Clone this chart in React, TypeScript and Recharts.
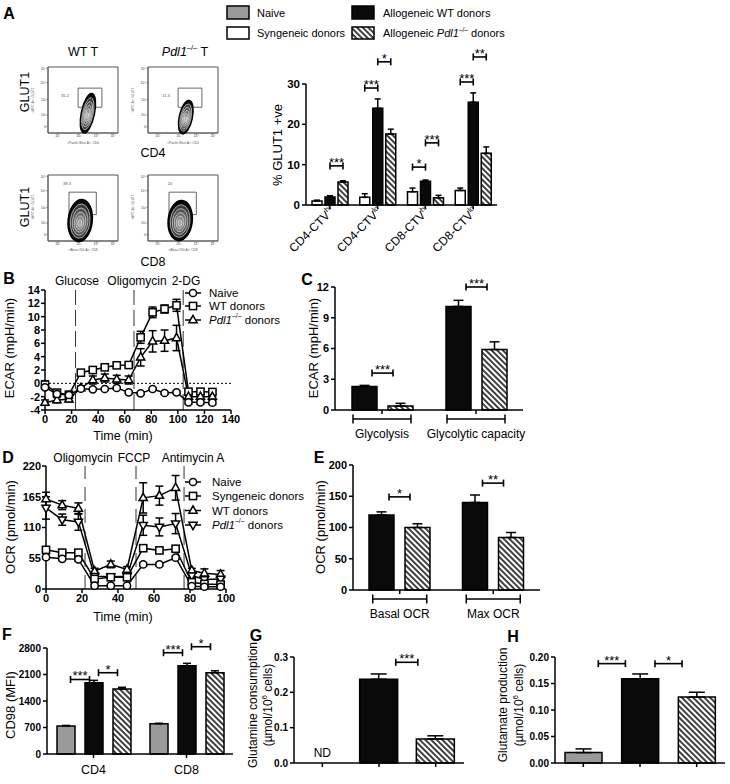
import React from 'react';
import {
  Bar,
  BarChart,
  Cell,
  ErrorBar,
  LabelList,
  Line,
  LineChart,
  ReferenceArea,
  ReferenceLine,
  Scatter,
  ScatterChart,
  XAxis,
  YAxis,
} from 'recharts';

const FONT = '"Liberation Sans", Arial, Helvetica, sans-serif';
const GRAY = '#9a9a9a';
const BLACK = '#0a0a0a';
const HATCH = 'url(#hatch)';

// ---------- A: flow plots
const flowGateLabels = ['35.2', '11.3', '38.3', '20'];
const flowBlobX = [57, 54, 46, 46];
const flowBlobY = [30, 24, 31, 31];
const flowGateX = [[43, 77], [43, 77], [30, 69], [30, 69]];
const flowGateY = [[39, 68], [39, 68], [40, 74], [40, 74]];
const flowXTicks = [6, 14, 44, 69, 93];
const flowYTicks = [10, 27, 51, 76, 98];
const flowTickLabels = ['0', '10²', '10³', '10⁴', '10⁵'];

// ---------- A: bar chart
const aCatBase = ['CD4-CTV', 'CD4-CTV', 'CD8-CTV', 'CD8-CTV'];
const aCatSup = ['hi', 'lo', 'hi', 'lo'];
const aCats = aCatBase.map((b, i) => b + aCatSup[i]);
const aSyn = [1.0, 1.9, 3.3, 3.6];
const aSynErr = [0.2, 0.9, 0.9, 0.6];
const aWT = [2.0, 24.0, 5.9, 25.5];
const aWTErr = [0.3, 2.3, 0.3, 2.3];
const aKO = [5.7, 17.6, 1.8, 12.8];
const aKOErr = [0.3, 1.2, 0.6, 1.6];
const aSigSyn = [
  { i: 1, y: 29.0, t: '***' },
  { i: 2, y: 9.4, t: '*' },
  { i: 3, y: 30.5, t: '***' },
];
const aSigWT = [
  { i: 0, y: 9.7, t: '***' },
  { i: 1, y: 35.5, t: '*' },
  { i: 2, y: 15.4, t: '***' },
  { i: 3, y: 36.7, t: '**' },
];

// ---------- B: ECAR time course
const bTime = [0, 9, 18, 27, 36, 45, 54, 63, 72, 81, 90, 99, 108, 117, 126];
const bNaive = [-0.6, -1.6, -1.75, -0.8, -0.9, -0.85, -0.7, -1.35, -1.5, -0.85, -1.45, -1.35, -2.85, -2.85, -2.9];
const bNaiveErr = [0.3, 0.3, 0.3, 0.2, 0.2, 0.2, 0.2, 0.2, 0.2, 0.2, 0.2, 0.2, 0.3, 0.3, 0.3];
const bWT = [-0.2, -1.4, -1.7, 1.6, 2.0, 2.4, 2.7, 2.75, 6.9, 10.65, 11.15, 11.7, -1.25, -1.25, -1.3];
const bWTErr = [0.6, 0.4, 0.3, 0.3, 0.3, 0.3, 0.3, 0.3, 0.9, 0.8, 0.6, 0.9, 0.3, 0.3, 0.3];
const bKO = [-2.9, -2.5, -2.4, -0.7, 0.5, 0.8, 0.6, 0.5, 3.9, 6.3, 6.4, 6.8, -2.0, -2.0, -2.0];
const bKOErr = [0.4, 0.4, 0.4, 0.3, 0.6, 0.6, 0.6, 0.6, 1.3, 1.6, 1.6, 1.9, 0.4, 0.4, 0.4];
const bInjections = [23, 67, 104];
const bInjectionNames = ['Glucose', 'Oligomycin', '2-DG'];

// ---------- C: ECAR summary
const cCats = ['Glycolysis', 'Glycolytic capacity'];
const cWT = [2.3, 10.1];
const cWTErr = [0.1, 0.6];
const cKO = [0.4, 5.9];
const cKOErr = [0.25, 0.75];
const cSig = [
  { i: 0, y: 3.6, t: '***' },
  { i: 1, y: 12.0, t: '***' },
];

// ---------- D: OCR time course
const dTime = [0, 9, 18, 27, 36, 45, 54, 63, 72, 81, 88, 97];
const dNaive = [57, 54, 53, 6, 6, 6, 44, 44, 56, 5, 4, 4];
const dNaiveErr = [3, 3, 3, 2, 2, 2, 3, 3, 3, 2, 2, 2];
const dSyn = [70, 65, 65, 18, 21, 21, 73, 69, 72, 12, 9, 8];
const dSynErr = [5, 4, 4, 3, 3, 3, 4, 4, 4, 3, 3, 3];
const dWT = [161, 150, 144, 32, 44, 35, 163, 167, 181, 33, 28, 26];
const dWTErr = [12, 8, 10, 5, 6, 5, 27, 17, 22, 4, 8, 7];
const dKO = [145, 124, 120, 23, 22, 23, 114, 111, 117, 24, 17, 18];
const dKOErr = [20, 10, 15, 4, 4, 4, 18, 16, 18, 4, 4, 4];
const dInjections = [21.7, 50, 76.7];
const dInjectionNames = ['Oligomycin', 'FCCP', 'Antimycin A'];

// ---------- E: OCR summary
const eCats = ['Basal OCR', 'Max OCR'];
const eWT = [120, 140];
const eWTErr = [5, 12];
const eKO = [100, 84];
const eKOErr = [6, 8];
const eSig = [
  { i: 0, y: 149, t: '*' },
  { i: 1, y: 171, t: '**' },
];

// ---------- F: CD98
const fCats = ['CD4', 'CD8'];
const fNaive = [740, 800];
const fNaiveErr = [15, 12];
const fWT = [1883, 2332];
const fWTErr = [63, 63];
const fKO = [1717, 2148];
const fKOErr = [45, 50];
const fSigNaive = [
  { i: 0, y: 1968, t: '***' },
  { i: 1, y: 2675, t: '***' },
];
const fSigWT = [
  { i: 0, y: 2147, t: '*' },
  { i: 1, y: 2834, t: '*' },
];

// ---------- G / H: glutamine, glutamate
const ghGroups = ['Naive', 'WT donors', 'Pdl1 donors'];
const gValues = [0, 0.237, 0.068];
const gErr = [0, 0.015, 0.009];
const gSig = [{ i: 1, y: 0.285, t: '***' }];
const hValues = [0.0196, 0.159, 0.1245];
const hErr = [0.007, 0.009, 0.009];
const hSig = [
  { i: 0, y: 0.1875, t: '***' },
  { i: 1, y: 0.1875, t: '*' },
];

type Sig = { i: number; y: number; t: string };

const axisStyle = { stroke: '#000', strokeWidth: 1.5 };
const tickFont = (size: number) => ({
  fill: '#000',
  fontSize: size,
  fontWeight: 'bold' as const,
  fontFamily: FONT,
});

function Place({ left, top, children }: { left: number; top: number; children: React.ReactNode }) {
  return <div style={{ position: 'absolute', left, top }}>{children}</div>;
}

function Marker({ kind, cx, cy, r = 3.6 }: { kind: string; cx: number; cy: number; r?: number }) {
  const p = { fill: '#fff', stroke: '#000', strokeWidth: 1.5 };
  if (kind === 'circle') return <circle cx={cx} cy={cy} r={r} {...p} />;
  if (kind === 'square')
    return <rect x={cx - r} y={cy - r} width={2 * r} height={2 * r} {...p} />;
  if (kind === 'up')
    return (
      <polygon
        points={`${cx},${cy - r - 1} ${cx + r + 0.5},${cy + r * 0.75} ${cx - r - 0.5},${cy + r * 0.75}`}
        {...p}
      />
    );
  return (
    <polygon
      points={`${cx},${cy + r + 1} ${cx + r + 0.5},${cy - r * 0.75} ${cx - r - 0.5},${cy - r * 0.75}`}
      {...p}
    />
  );
}

const dotOf = (kind: string) => (p: any) => {
  if (p.cx == null || p.cy == null) return <g key={p.index} />;
  return <Marker key={`${kind}-${p.index}`} kind={kind} cx={p.cx} cy={p.cy} />;
};

// significance bracket: label value is the category name, scale taken from the bar itself
const sigContent =
  (sigs: Sig[], cats: string[], series: number[], step: number, f: number) => (props: any) => {
    const idx = cats.indexOf(props.value);
    const s = sigs.find((d) => d.i === idx);
    const v = series[idx];
    const vb = props.viewBox || props;
    if (!s || !v || !vb || !vb.height) return null;
    const base = vb.y + vb.height;
    const py = base - (s.y * vb.height) / v;
    const c = vb.x + vb.width / 2;
    const x1 = c + f * vb.width;
    const x2 = c + step - f * vb.width;
    return (
      <g>
        <line x1={x1} x2={x2} y1={py} y2={py} stroke="#000" strokeWidth={1.6} />
        <line x1={x1} x2={x1} y1={py - 3.5} y2={py + 3.5} stroke="#000" strokeWidth={1.6} />
        <line x1={x2} x2={x2} y1={py - 3.5} y2={py + 3.5} stroke="#000" strokeWidth={1.6} />
        <text x={(x1 + x2) / 2} y={py + 1} textAnchor="middle" fontSize={13} fontFamily={FONT} fill="#000">
          {s.t}
        </text>
      </g>
    );
  };

const GroupTick = (half: number) => (props: any) => {
  const { x, y, payload } = props;
  return (
    <g>
      <line x1={x - half} x2={x + half} y1={y + 5} y2={y + 5} stroke="#000" strokeWidth={1.5} />
      <line x1={x - half} x2={x - half} y1={y + 0.5} y2={y + 9.5} stroke="#000" strokeWidth={1.5} />
      <line x1={x + half} x2={x + half} y1={y + 0.5} y2={y + 9.5} stroke="#000" strokeWidth={1.5} />
      <text x={x} y={y + 20} textAnchor="middle" dominantBaseline="central" fontSize={12} fontFamily={FONT} fill="#000">
        {payload.value}
      </text>
    </g>
  );
};

const ATick = (props: any) => {
  const { x, y, payload } = props;
  const i = aCats.indexOf(payload.value);
  const ax = x + 5;
  const ay = y + 3;
  return (
    <text x={ax} y={ay} transform={`rotate(-45 ${ax} ${ay})`} textAnchor="end" fontSize={12} fontFamily={FONT} fill="#000">
      {aCatBase[i]}
      <tspan fontSize={7.5} dy={-5}>
        {aCatSup[i]}
      </tspan>
    </text>
  );
};

// ---------- flow plot
const blobStyle = [
  { rx: 6.5, ry: 20, rot: 12 },
  { rx: 6.5, ry: 17, rot: 12 },
  { rx: 12, ry: 21, rot: 6 },
  { rx: 12, ry: 20, rot: 6 },
];

function FlowPlot({ n, left, top }: { n: number; left: number; top: number }) {
  const st = blobStyle[n];
  const blob = (p: any) => {
    const { cx, cy } = p;
    if (cx == null) return <g />;
    const rings = [1, 0.82, 0.65, 0.48, 0.32, 0.16];
    const fills = ['#0a0a0a', '#3a3a3a', '#555', '#707070', '#8a8a8a', '#a5a5a5'];
    return (
      <g transform={`rotate(${st.rot} ${cx} ${cy})`}>
        {rings.map((k, i) => (
          <ellipse
            key={i}
            cx={cx}
            cy={cy + (1 - k) * st.ry * 0.15}
            rx={st.rx * k}
            ry={st.ry * k}
            fill={fills[i]}
            stroke={i === 0 ? '#000' : '#f0f0f0'}
            strokeWidth={i === 0 ? 1.6 : 0.6}
          />
        ))}
      </g>
    );
  };
  return (
    <Place left={left - 18} top={top - 2}>
      <ScatterChart width={90} height={80} margin={{ top: 2, right: 2, bottom: 0, left: 0 }}>
        <XAxis
          type="number"
          dataKey="x"
          domain={[0, 100]}
          ticks={flowXTicks}
          tickFormatter={(v: number) => flowTickLabels[flowXTicks.indexOf(v)]}
          tick={{ fontSize: 3.5, fill: '#444', fontFamily: FONT }}
          tickSize={2}
          tickMargin={0}
          height={12}
          axisLine={{ stroke: '#555', strokeWidth: 0.8 }}
          tickLine={{ stroke: '#555', strokeWidth: 0.5 }}
        />
        <YAxis
          type="number"
          dataKey="y"
          domain={[0, 100]}
          ticks={flowYTicks}
          tickFormatter={(v: number) => flowTickLabels[flowYTicks.indexOf(v)]}
          tick={{ fontSize: 3.5, fill: '#444', fontFamily: FONT }}
          tickSize={2}
          tickMargin={0}
          width={18}
          axisLine={{ stroke: '#555', strokeWidth: 0.8 }}
          tickLine={{ stroke: '#555', strokeWidth: 0.5 }}
        />
        <ReferenceArea x1={0} x2={100} y1={0} y2={100} fill="none" stroke="#555" strokeWidth={1} />
        <Scatter data={[{ x: flowBlobX[n], y: flowBlobY[n] }]} shape={blob} isAnimationActive={false} />
        <ReferenceArea
          x1={flowGateX[n][0]}
          x2={flowGateX[n][1]}
          y1={flowGateY[n][0]}
          y2={flowGateY[n][1]}
          fill="none"
          stroke="#555"
          strokeWidth={0.9}
          ifOverflow="visible"
        />
      </ScatterChart>
    </Place>
  );
}

// ---------- A bar chart
function PanelABars() {
  const data = aCats.map((cat, i) => ({
    cat,
    syn: aSyn[i],
    synE: [0, aSynErr[i]],
    wt: aWT[i],
    wtE: [0, aWTErr[i]],
    ko: aKO[i],
    koE: [0, aKOErr[i]],
  }));
  return (
    <Place left={256} top={34}>
      <BarChart width={246} height={231} data={data} margin={{ top: 50, right: 5, bottom: 0, left: 0 }} barSize={10} barGap={3}>
        <XAxis dataKey="cat" height={60} axisLine={axisStyle} tickLine={axisStyle} tickSize={4} tickMargin={0} tick={ATick} interval={0} />
        <YAxis width={50} domain={[0, 30]} ticks={[0, 10, 20, 30]} axisLine={axisStyle} tickLine={axisStyle} tickSize={4} tickMargin={2} tick={tickFont(11.5)} />
        <Bar dataKey="syn" fill="#fff" stroke="#000" strokeWidth={1.5} isAnimationActive={false}>
          <ErrorBar dataKey="synE" width={3} stroke="#000" strokeWidth={1.5} />
          <LabelList dataKey="cat" content={sigContent(aSigSyn, aCats, aSyn, 13, 0)} />
        </Bar>
        <Bar dataKey="wt" fill={BLACK} stroke="#000" strokeWidth={1.5} isAnimationActive={false}>
          <ErrorBar dataKey="wtE" width={3} stroke="#000" strokeWidth={1.5} />
          <LabelList dataKey="cat" content={sigContent(aSigWT, aCats, aWT, 13, 0)} />
        </Bar>
        <Bar dataKey="ko" fill={HATCH} stroke="#000" strokeWidth={1.5} isAnimationActive={false}>
          <ErrorBar dataKey="koE" width={3} stroke="#000" strokeWidth={1.5} />
        </Bar>
      </BarChart>
    </Place>
  );
}

// ---------- B line chart
function PanelB() {
  const data = bTime.map((t, i) => ({
    t,
    naive: bNaive[i],
    naiveE: bNaiveErr[i],
    wt: bWT[i],
    wtE: bWTErr[i],
    ko: bKO[i],
    koE: bKOErr[i],
  }));
  return (
    <Place left={15} top={285}>
      <LineChart width={226} height={150} data={data} margin={{ top: 5, right: 10, bottom: 0, left: 0 }}>
        <XAxis type="number" dataKey="t" domain={[0, 140]} ticks={[0, 20, 40, 60, 80, 100, 120, 140]} height={25} axisLine={axisStyle} tickLine={axisStyle} tickSize={4} tickMargin={1} tick={tickFont(11)} />
        <YAxis type="number" domain={[-4, 14]} ticks={[-4, -2, 0, 2, 4, 6, 8, 10, 12, 14]} interval={0} width={30} axisLine={axisStyle} tickLine={axisStyle} tickSize={4} tickMargin={1} tick={tickFont(11)} />
        <ReferenceLine y={0} stroke="#000" strokeWidth={1} strokeDasharray="2 2" />
        {bInjections.map((x) => (
          <ReferenceLine key={x} x={x} stroke="#333" strokeWidth={1} strokeDasharray="16 5" />
        ))}
        <Line dataKey="wt" stroke="#000" strokeWidth={1.5} dot={dotOf('square')} isAnimationActive={false}>
          <ErrorBar dataKey="wtE" width={4} stroke="#000" strokeWidth={1.5} direction="y" />
        </Line>
        <Line dataKey="ko" stroke="#000" strokeWidth={1.5} dot={dotOf('up')} isAnimationActive={false}>
          <ErrorBar dataKey="koE" width={4} stroke="#000" strokeWidth={1.5} direction="y" />
        </Line>
        <Line dataKey="naive" stroke="#000" strokeWidth={1.5} dot={dotOf('circle')} isAnimationActive={false}>
          <ErrorBar dataKey="naiveE" width={4} stroke="#000" strokeWidth={1.5} direction="y" />
        </Line>
      </LineChart>
    </Place>
  );
}

// ---------- C bar chart
function PanelC() {
  const data = cCats.map((c, i) => ({
    cat: c,
    wt: cWT[i],
    wtE: [0, cWTErr[i]],
    ko: cKO[i],
    koE: [0, cKOErr[i]],
  }));
  return (
    <Place left={305} top={267}>
      <BarChart width={223} height={183} data={data} margin={{ top: 20, right: 5, bottom: 0, left: 0 }} barSize={25} barGap={11}>
        <XAxis dataKey="cat" height={40} axisLine={axisStyle} tickLine={axisStyle} tickSize={4} tickMargin={0} tick={GroupTick(29)} interval={0} />
        <YAxis width={30} domain={[0, 12]} ticks={[0, 3, 6, 9, 12]} axisLine={axisStyle} tickLine={axisStyle} tickSize={4} tickMargin={2} tick={tickFont(11)} />
        <Bar dataKey="wt" fill={BLACK} stroke="#000" strokeWidth={1.5} isAnimationActive={false}>
          <ErrorBar dataKey="wtE" width={5} stroke="#000" strokeWidth={1.5} />
          <LabelList dataKey="cat" content={sigContent(cSig, cCats, cWT, 36, 0.3)} />
        </Bar>
        <Bar dataKey="ko" fill={HATCH} stroke="#000" strokeWidth={1.5} isAnimationActive={false}>
          <ErrorBar dataKey="koE" width={5} stroke="#000" strokeWidth={1.5} />
        </Bar>
      </BarChart>
    </Place>
  );
}

// ---------- D line chart
function PanelD() {
  const data = dTime.map((t, i) => ({
    t,
    naive: dNaive[i],
    naiveE: dNaiveErr[i],
    syn: dSyn[i],
    synE: dSynErr[i],
    wt: dWT[i],
    wtE: dWTErr[i],
    ko: dKO[i],
    koE: dKOErr[i],
  }));
  const series = [
    { k: 'wt', m: 'up' },
    { k: 'ko', m: 'down' },
    { k: 'syn', m: 'square' },
    { k: 'naive', m: 'circle' },
  ];
  return (
    <Place left={16} top={461}>
      <LineChart width={220} height={153} data={data} margin={{ top: 5, right: 10, bottom: 0, left: 0 }}>
        <XAxis type="number" dataKey="t" domain={[0, 100]} ticks={[0, 20, 40, 60, 80, 100]} height={25} axisLine={axisStyle} tickLine={axisStyle} tickSize={4} tickMargin={1} tick={tickFont(11)} />
        <YAxis type="number" domain={[0, 220]} ticks={[0, 55, 110, 165, 220]} interval={0} width={30} axisLine={axisStyle} tickLine={axisStyle} tickSize={4} tickMargin={1} tick={tickFont(11)} />
        {dInjections.map((x) => (
          <ReferenceLine key={x} x={x} stroke="#333" strokeWidth={1} strokeDasharray="14 8" />
        ))}
        {series.map((s) => (
          <Line key={s.k} dataKey={s.k} stroke="#000" strokeWidth={1.5} dot={dotOf(s.m)} isAnimationActive={false}>
            <ErrorBar dataKey={`${s.k}E`} width={4} stroke="#000" strokeWidth={1.5} direction="y" />
          </Line>
        ))}
      </LineChart>
    </Place>
  );
}

// ---------- E bar chart
function PanelE() {
  const data = eCats.map((c, i) => ({
    cat: c,
    wt: eWT[i],
    wtE: [0, eWTErr[i]],
    ko: eKO[i],
    koE: [0, eKOErr[i]],
  }));
  return (
    <Place left={318} top={445}>
      <BarChart width={227} height={185} data={data} margin={{ top: 20, right: 5, bottom: 0, left: 0 }} barSize={25} barGap={11}>
        <XAxis dataKey="cat" height={40} axisLine={axisStyle} tickLine={axisStyle} tickSize={4} tickMargin={0} tick={GroupTick(27)} interval={0} />
        <YAxis width={35} domain={[0, 200]} ticks={[0, 50, 100, 150, 200]} axisLine={axisStyle} tickLine={axisStyle} tickSize={4} tickMargin={2} tick={tickFont(11)} />
        <Bar dataKey="wt" fill={BLACK} stroke="#000" strokeWidth={1.5} isAnimationActive={false}>
          <ErrorBar dataKey="wtE" width={5} stroke="#000" strokeWidth={1.5} />
          <LabelList dataKey="cat" content={sigContent(eSig, eCats, eWT, 36, 0.3)} />
        </Bar>
        <Bar dataKey="ko" fill={HATCH} stroke="#000" strokeWidth={1.5} isAnimationActive={false}>
          <ErrorBar dataKey="koE" width={5} stroke="#000" strokeWidth={1.5} />
        </Bar>
      </BarChart>
    </Place>
  );
}

// ---------- F bar chart
function PanelF() {
  const data = fCats.map((c, i) => ({
    cat: c,
    naive: fNaive[i],
    naiveE: [0, fNaiveErr[i]],
    wt: fWT[i],
    wtE: [0, fWTErr[i]],
    ko: fKO[i],
    koE: [0, fKOErr[i]],
  }));
  const catTick = (p: any) => (
    <text x={p.x} y={p.y + 12} textAnchor="middle" dominantBaseline="central" fontSize={12.5} fontFamily={FONT} fill="#000">
      {p.payload.value}
    </text>
  );
  return (
    <Place left={12} top={628}>
      <BarChart width={226} height={154} data={data} margin={{ top: 20, right: 5, bottom: 0, left: 0 }} barSize={18} barGap={10}>
        <XAxis dataKey="cat" height={28} axisLine={axisStyle} tickLine={axisStyle} tickSize={4} tickMargin={0} tick={catTick} interval={0} />
        <YAxis width={35} domain={[0, 2800]} ticks={[0, 700, 1400, 2100, 2800]} axisLine={axisStyle} tickLine={axisStyle} tickSize={4} tickMargin={2} tick={tickFont(10)} />
        <Bar dataKey="naive" fill={GRAY} stroke="#000" strokeWidth={1.5} isAnimationActive={false}>
          <ErrorBar dataKey="naiveE" width={4} stroke="#000" strokeWidth={1.5} />
          <LabelList dataKey="cat" content={sigContent(fSigNaive, fCats, fNaive, 28, 0.25)} />
        </Bar>
        <Bar dataKey="wt" fill={BLACK} stroke="#000" strokeWidth={1.5} isAnimationActive={false}>
          <ErrorBar dataKey="wtE" width={4} stroke="#000" strokeWidth={1.5} />
          <LabelList dataKey="cat" content={sigContent(fSigWT, fCats, fWT, 28, 0.25)} />
        </Bar>
        <Bar dataKey="ko" fill={HATCH} stroke="#000" strokeWidth={1.5} isAnimationActive={false}>
          <ErrorBar dataKey="koE" width={4} stroke="#000" strokeWidth={1.5} />
        </Bar>
      </BarChart>
    </Place>
  );
}

// ---------- G / H single-bar charts
const groupFills = [GRAY, BLACK, HATCH];

function SingleBars({
  left,
  values,
  errs,
  sigs,
  yMax,
  ticks,
  tickFmt,
  step,
  f,
  showND,
  yWidth,
  width,
  barSize,
}: {
  left: number;
  values: number[];
  errs: number[];
  sigs: Sig[];
  yMax: number;
  ticks: number[];
  tickFmt: (v: number) => string;
  step: number;
  f: number;
  showND: boolean;
  yWidth: number;
  width: number;
  barSize: number;
}) {
  const data = ghGroups.map((g, i) => ({
    g,
    v: values[i],
    e: errs[i] ? [0, errs[i]] : undefined,
  }));
  // "ND" (not detected) is written above the axis at the naive tick
  const groupTick = (p: any) =>
    showND && p.payload.value === ghGroups[0] && !values[0] ? (
      <text x={p.x} y={p.y - 16} textAnchor="middle" dominantBaseline="central" fontSize={12} fontFamily={FONT} fill="#000">
        ND
      </text>
    ) : (
      <g />
    );
  return (
    <Place left={left} top={642}>
      <BarChart width={width} height={136} data={data} margin={{ top: 15, right: 4, bottom: 0, left: 0 }} barSize={barSize}>
        <XAxis dataKey="g" height={15} axisLine={axisStyle} tickLine={axisStyle} tickSize={4} tick={groupTick} interval={0} />
        <YAxis width={yWidth} domain={[0, yMax]} ticks={ticks} tickFormatter={tickFmt} axisLine={axisStyle} tickLine={axisStyle} tickSize={4} tickMargin={2} tick={tickFont(10)} />
        <Bar dataKey="v" stroke="#000" strokeWidth={1.5} isAnimationActive={false}>
          {data.map((d, i) => (
            <Cell key={d.g} fill={groupFills[i]} />
          ))}
          <ErrorBar dataKey="e" width={8} stroke="#000" strokeWidth={1.5} />
          <LabelList dataKey="g" content={sigContent(sigs, ghGroups, values, step, f)} />
        </Bar>
      </BarChart>
    </Place>
  );
}

// ---------- overlay text
const txt = { fontFamily: FONT, fill: '#000' };

function VLabel({ x, y, size = 13, children }: { x: number; y: number; size?: number; children: React.ReactNode }) {
  return (
    <text transform={`translate(${x},${y}) rotate(-90)`} textAnchor="middle" dominantBaseline="central" fontSize={size} {...txt}>
      {children}
    </text>
  );
}

function Pdl1({ size }: { size: number }) {
  return (
    <>
      <tspan fontStyle="italic">Pdl1</tspan>
      <tspan fontSize={size * 0.6} dy={-size * 0.4}>
        –/–
      </tspan>
      <tspan dy={size * 0.4}> </tspan>
    </>
  );
}

function Overlay() {
  const letters: [string, number, number][] = [
    ['A', 9, 13],
    ['B', 9, 278],
    ['C', 307, 279],
    ['D', 8, 457],
    ['E', 319, 457],
    ['F', 7, 634],
    ['G', 256, 635],
    ['H', 513, 636],
  ];
  const bLegend = [
    { m: 'circle', y: 293, label: 'Naive' },
    { m: 'square', y: 306, label: 'WT donors' },
    { m: 'up', y: 320, label: 'KO' },
  ];
  const dLegend = [
    { m: 'circle', y: 482, label: 'Naive' },
    { m: 'square', y: 496, label: 'Syngeneic donors' },
    { m: 'up', y: 510.5, label: 'WT donors' },
    { m: 'down', y: 525, label: 'KO' },
  ];
  return (
    <svg width={730} height={784} style={{ position: 'absolute', left: 0, top: 0, pointerEvents: 'none' }}>
      <defs>
        <pattern id="hatch" width="4" height="4" patternUnits="userSpaceOnUse" patternTransform="rotate(-45)">
          <rect width="4" height="4" fill="#fff" />
          <line x1="1" y1="0" x2="1" y2="4" stroke="#000" strokeWidth="1.5" />
        </pattern>
      </defs>
      {letters.map(([l, x, y]) => (
        <text key={l} x={x} y={y} textAnchor="middle" dominantBaseline="central" fontSize={16} fontWeight="bold" {...txt}>
          {l}
        </text>
      ))}

      {/* A legend */}
      <rect x={227} y={6} width={22} height={13} fill={GRAY} stroke="#000" strokeWidth={1.5} />
      <rect x={227} y={27} width={22} height={12} fill="#fff" stroke="#000" strokeWidth={1.5} />
      <rect x={352} y={6} width={22} height={13} fill={BLACK} stroke="#000" strokeWidth={1.5} />
      <rect x={352} y={27} width={22} height={12} fill={HATCH} stroke="#000" strokeWidth={1.5} />
      <text x={257} y={13} dominantBaseline="central" fontSize={11} {...txt}>Naive</text>
      <text x={257} y={33} dominantBaseline="central" fontSize={11} {...txt}>Syngeneic donors</text>
      <text x={383} y={13} dominantBaseline="central" fontSize={11} {...txt}>Allogeneic WT donors</text>
      <text x={383} y={33} dominantBaseline="central" fontSize={11} {...txt}>
        Allogeneic <Pdl1 size={11} />donors
      </text>

      {/* A flow labels */}
      <text x={83} y={52} textAnchor="middle" dominantBaseline="central" fontSize={12.5} {...txt}>WT T</text>
      <text x={185} y={52} textAnchor="middle" dominantBaseline="central" fontSize={12.5} {...txt}>
        <Pdl1 size={12.5} />T
      </text>
      <text x={153} y={153} textAnchor="middle" dominantBaseline="central" fontSize={12.5} {...txt}>CD4</text>
      <text x={153} y={262} textAnchor="middle" dominantBaseline="central" fontSize={12.5} {...txt}>CD8</text>
      <VLabel x={25} y={92} size={12.5}>GLUT1</VLabel>
      <VLabel x={25} y={207} size={12.5}>GLUT1</VLabel>
      {[[65, 95], [166, 95], [67, 183], [170, 183]].map(([x, y], i) => (
        <text key={i} x={x} y={y} textAnchor="middle" dominantBaseline="central" fontSize={4} fill="#555" fontFamily={FONT}>
          {flowGateLabels[i]}
        </text>
      ))}
      {[83, 183].map((x) => (
        <g key={x}>
          <text x={x} y={144} textAnchor="middle" fontSize={3.2} fill="#555" fontFamily={FONT}>{'<Pacific Blue-A>: CD4'}</text>
          <text x={x} y={251} textAnchor="middle" fontSize={3.2} fill="#555" fontFamily={FONT}>{'<Alexa 700-A>: CD8'}</text>
        </g>
      ))}
      {[[34, 100], [134, 100], [34, 207], [134, 207]].map(([x, y], i) => (
        <text key={i} transform={`translate(${x},${y}) rotate(-90)`} textAnchor="middle" fontSize={3.2} fill="#555" fontFamily={FONT}>
          {'<APC-A>: GLUT1'}
        </text>
      ))}
      <VLabel x={277} y={145}>% GLUT1 +ve</VLabel>

      {/* B */}
      {bInjectionNames.map((n, i) => (
        <text key={n} x={[77, 137, 186][i]} y={281} textAnchor="middle" dominantBaseline="central" fontSize={12} {...txt}>{n}</text>
      ))}
      <VLabel x={9} y={348}>ECAR (mpH/min)</VLabel>
      <text x={123} y={436} textAnchor="middle" dominantBaseline="central" fontSize={12.5} {...txt}>Time (min)</text>
      {bLegend.map((l) => (
        <g key={l.y}>
          <line x1={185} x2={201} y1={l.y} y2={l.y} stroke="#000" strokeWidth={1.5} />
          <Marker kind={l.m} cx={193} cy={l.y} />
          <text x={209} y={l.y} dominantBaseline="central" fontSize={11.5} {...txt}>
            {l.label === 'KO' ? (<><Pdl1 size={11.5} />donors</>) : l.label}
          </text>
        </g>
      ))}

      {/* C */}
      <VLabel x={313} y={348}>ECAR (mpH/min)</VLabel>

      {/* D */}
      {dInjectionNames.map((n, i) => (
        <text key={n} x={[83, 134, 193][i]} y={458} textAnchor="middle" dominantBaseline="central" fontSize={12} {...txt}>{n}</text>
      ))}
      <VLabel x={10} y={527}>OCR (pmol/min)</VLabel>
      <text x={123} y={617} textAnchor="middle" dominantBaseline="central" fontSize={12.5} {...txt}>Time (min)</text>
      {dLegend.map((l) => (
        <g key={l.y}>
          <line x1={185} x2={201} y1={l.y} y2={l.y} stroke="#000" strokeWidth={1.5} />
          <Marker kind={l.m} cx={193} cy={l.y} />
          <text x={212} y={l.y} dominantBaseline="central" fontSize={11.5} {...txt}>
            {l.label === 'KO' ? (<><Pdl1 size={11.5} />donors</>) : l.label}
          </text>
        </g>
      ))}

      {/* E */}
      <VLabel x={320} y={527}>OCR (pmol/min)</VLabel>

      {/* F, G, H */}
      <VLabel x={10} y={705}>CD98 (MFI)</VLabel>
      <VLabel x={253} y={705} size={12}>Glutamine consumption</VLabel>
      <VLabel x={268} y={705} size={12}>(µmol/10<tspan fontSize={8} dy={-4}>6</tspan><tspan dy={4}> cells)</tspan></VLabel>
      <VLabel x={503} y={705} size={12}>Glutamate production</VLabel>
      <VLabel x={519} y={705} size={12}>(µmol/10<tspan fontSize={8} dy={-4}>6</tspan><tspan dy={4}> cells)</tspan></VLabel>
    </svg>
  );
}

export default function App() {
  return (
    <div style={{ position: 'absolute', left: 0, top: 0, width: 730, height: 784, background: '#fff', overflow: 'hidden', fontFamily: FONT }}>
      <FlowPlot n={0} left={48} top={67} />
      <FlowPlot n={1} left={148} top={67} />
      <FlowPlot n={2} left={48} top={175} />
      <FlowPlot n={3} left={148} top={175} />
      <PanelABars />
      <PanelB />
      <PanelC />
      <PanelD />
      <PanelE />
      <PanelF />
      <SingleBars
        left={264}
        width={204}
        yWidth={30}
        barSize={38}
        values={gValues}
        errs={gErr}
        sigs={gSig}
        yMax={0.3}
        ticks={[0, 0.1, 0.2, 0.3]}
        tickFmt={(v) => v.toFixed(1)}
        step={56.3}
        f={0.45}
        showND
      />
      <SingleBars
        left={523}
        width={206}
        yWidth={32}
        barSize={37}
        values={hValues}
        errs={hErr}
        sigs={hSig}
        yMax={0.2}
        ticks={[0, 0.05, 0.1, 0.15, 0.2]}
        tickFmt={(v) => v.toFixed(2)}
        step={56.7}
        f={0.4}
        showND={false}
      />
      <Overlay />
    </div>
  );
}
